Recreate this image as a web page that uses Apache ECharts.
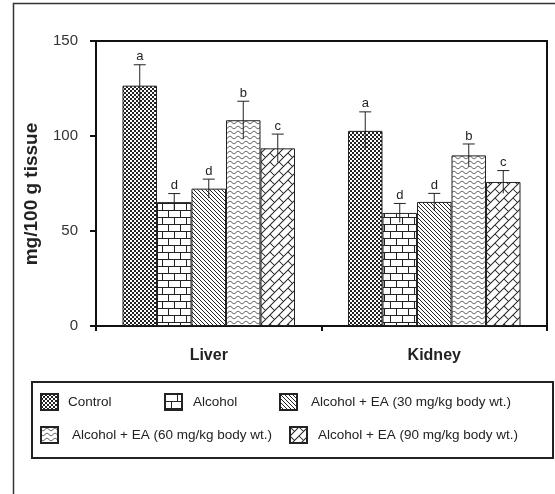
<!DOCTYPE html>
<html>
<head>
<meta charset="utf-8">
<script src="https://cdn.jsdelivr.net/npm/echarts@6/dist/echarts.min.js"></script>
<style>
  html, body { margin: 0; padding: 0; background: #fff; }
  #chart { width: 555px; height: 494px; }
</style>
</head>
<body>
<div id="chart"></div>
<script>
// Tissue levels, mean +/- SD, with significance letters
const organs = ['Liver', 'Kidney'];
const groups = [
  'Control',
  'Alcohol',
  'Alcohol + EA (30 mg/kg body wt.)',
  'Alcohol + EA (60 mg/kg body wt.)',
  'Alcohol + EA (90 mg/kg body wt.)'
];
const controlVals = [126.5, 102.7];
const alcoholVals = [65.2, 59.5];
const ea30Vals = [72.3, 65.3];
const ea60Vals = [108.3, 89.8];
const ea90Vals = [93.5, 75.8];

const controlErr = [11, 10];
const alcoholErr = [4.5, 5];
const ea30Err = [5, 4.5];
const ea60Err = [10, 6];
const ea90Err = [7.5, 6];

const controlLetters = ['a', 'a'];
const alcoholLetters = ['d', 'd'];
const ea30Letters = ['d', 'd'];
const ea60Letters = ['b', 'b'];
const ea90Letters = ['c', 'c'];

const yTicks = [0, 50, 100, 150];

const FONT = '"Liberation Sans", Arial, sans-serif';
const GAP = 0.235;

// hatch fills built on small canvases
function makePattern(w, h, draw) {
  const c = document.createElement('canvas');
  c.width = w;
  c.height = h;
  const ctx = c.getContext('2d');
  ctx.fillStyle = '#fff';
  ctx.fillRect(0, 0, w, h);
  ctx.strokeStyle = '#222';
  ctx.fillStyle = '#222';
  ctx.lineWidth = 1;
  draw(ctx, w, h);
  return { image: c, repeat: 'repeat' };
}

const checker = makePattern(4, 4, (ctx) => {
  ctx.fillRect(0, 0, 2, 2);
  ctx.fillRect(2, 2, 2, 2);
});

const brick = makePattern(12, 14, (ctx) => {
  ctx.beginPath();
  ctx.moveTo(0, 0.5); ctx.lineTo(12, 0.5);
  ctx.moveTo(0, 7.5); ctx.lineTo(12, 7.5);
  ctx.moveTo(0.5, 0); ctx.lineTo(0.5, 7.5);
  ctx.moveTo(6.5, 7.5); ctx.lineTo(6.5, 14);
  ctx.stroke();
});

const diag = makePattern(4, 4, (ctx) => {
  ctx.beginPath();
  ctx.moveTo(-1, -1); ctx.lineTo(5, 5);
  ctx.moveTo(-1, 3); ctx.lineTo(1, 5);
  ctx.moveTo(3, -1); ctx.lineTo(5, 1);
  ctx.stroke();
});

const wave = makePattern(8, 5, (ctx) => {
  ctx.strokeStyle = '#444';
  ctx.beginPath();
  for (let x = 0; x <= 8; x += 0.5) {
    const y = 2.5 + 1.2 * Math.sin(2 * Math.PI * x / 8);
    if (x === 0) ctx.moveTo(x, y); else ctx.lineTo(x, y);
  }
  ctx.stroke();
});

const W = 18;
const diagBrick = makePattern(W, W, (ctx) => {
  const H = W / (2 * Math.SQRT2);
  const L = W / Math.SQRT2;
  ctx.save();
  ctx.rotate(-Math.PI / 4);
  ctx.beginPath();
  for (let k = -8; k <= 8; k++) {
    ctx.moveTo(-50, k * H); ctx.lineTo(50, k * H);
    for (let j = -8; j <= 8; j++) {
      const u = j * L + (Math.abs(k) % 2) * L / 2;
      ctx.moveTo(u, k * H); ctx.lineTo(u, (k + 1) * H);
    }
  }
  ctx.stroke();
  ctx.restore();
});

const fills = [checker, brick, diag, wave, diagBrick];
const vals = [controlVals, alcoholVals, ea30Vals, ea60Vals, ea90Vals];
const errs = [controlErr, alcoholErr, ea30Err, ea60Err, ea90Err];
const letters = [controlLetters, alcoholLetters, ea30Letters, ea60Letters, ea90Letters];

const errData = [];
const errLetters = [];
organs.forEach((o, c) => {
  groups.forEach((g, i) => {
    errData.push([c, i, vals[i][c], errs[i][c]]);
    errLetters.push(letters[i][c]);
  });
});

const chart = echarts.init(document.getElementById('chart'));

const barSeries = groups.map((g, i) => ({
  name: g,
  type: 'bar',
  data: vals[i],
  barGap: '0%',
  barCategoryGap: (GAP * 100) + '%',
  itemStyle: { color: fills[i], borderColor: '#222', borderWidth: 1 },
  emphasis: { disabled: true }
}));

// legend placement: one small legend per entry
const legendPos = [
  { left: 40, top: 393, gap: 10 },
  { left: 164, top: 393, gap: 11 },
  { left: 279, top: 393, gap: 14 },
  { left: 40, top: 426, gap: 14 },
  { left: 289, top: 426, gap: 11 }
];

const option = {
  animation: false,
  grid: {
    left: 96, top: 41, right: 8, bottom: 168,
    show: true, borderColor: '#111', borderWidth: 2
  },
  legend: groups.map((g, i) => ({
    data: [g],
    left: legendPos[i].left,
    top: legendPos[i].top,
    padding: 0,
    icon: 'rect',
    itemWidth: 17,
    itemHeight: 16,
    selectedMode: false,
    textStyle: {
      fontFamily: FONT, fontSize: 13.5, color: '#222',
      padding: [0, 0, 0, legendPos[i].gap - 5]
    }
  })),
  xAxis: {
    type: 'category',
    data: organs,
    axisLine: { lineStyle: { color: '#111', width: 2 } },
    axisTick: { show: true, length: 5, lineStyle: { color: '#111', width: 2 } },
    axisLabel: {
      margin: 22, fontFamily: FONT, fontSize: 16, fontWeight: 'bold', color: '#222'
    }
  },
  yAxis: {
    type: 'value',
    min: yTicks[0],
    max: yTicks[yTicks.length - 1],
    interval: 50,
    axisLine: { show: true, lineStyle: { color: '#111', width: 2 } },
    axisTick: { show: true, length: 6, lineStyle: { color: '#111', width: 2 } },
    splitLine: { show: false },
    axisLabel: { margin: 18, fontFamily: FONT, fontSize: 15, color: '#333' }
  },
  graphic: [
    {
      type: 'rect', silent: true, z: -1,
      shape: { x: 13.5, y: 3.5, width: 700, height: 700 },
      style: { fill: 'none', stroke: '#333', lineWidth: 1.5 }
    },
    {
      type: 'rect', silent: true,
      shape: { x: 32, y: 382, width: 521, height: 76 },
      style: { fill: 'none', stroke: '#222', lineWidth: 2 }
    },
    {
      type: 'text', silent: true,
      x: 32, y: 194, rotation: Math.PI / 2,
      style: {
        text: 'mg/100 g tissue', fill: '#222',
        font: 'bold 19px ' + FONT, align: 'center', verticalAlign: 'middle'
      }
    }
  ],
  series: [
    ...barSeries,
    {
      type: 'custom',
      name: 'err',
      data: errData,
      z: 5,
      silent: true,
      renderItem: function (params, api) {
        const cat = api.value(0);
        const idx = api.value(1);
        const v = api.value(2);
        const e = api.value(3);
        const catW = api.size([1, 0])[0];
        const barW = catW * (1 - GAP) / groups.length;
        const cx = api.coord([cat, 0])[0] + (idx - (groups.length - 1) / 2) * barW;
        const top = api.coord([cat, v + e])[1];
        const bot = api.coord([cat, v - e])[1];
        const style = { stroke: '#222', lineWidth: 1 };
        return {
          type: 'group',
          children: [
            { type: 'line', shape: { x1: cx, y1: top, x2: cx, y2: bot }, style },
            { type: 'line', shape: { x1: cx - 6, y1: top, x2: cx + 6, y2: top }, style },
            {
              type: 'text',
              x: cx, y: top - 1.5,
              style: {
                text: errLetters[params.dataIndex], fill: '#222',
                font: '13px ' + FONT, align: 'center', verticalAlign: 'bottom'
              }
            }
          ]
        };
      }
    }
  ]
};

chart.setOption(option);
</script>
</body>
</html>
